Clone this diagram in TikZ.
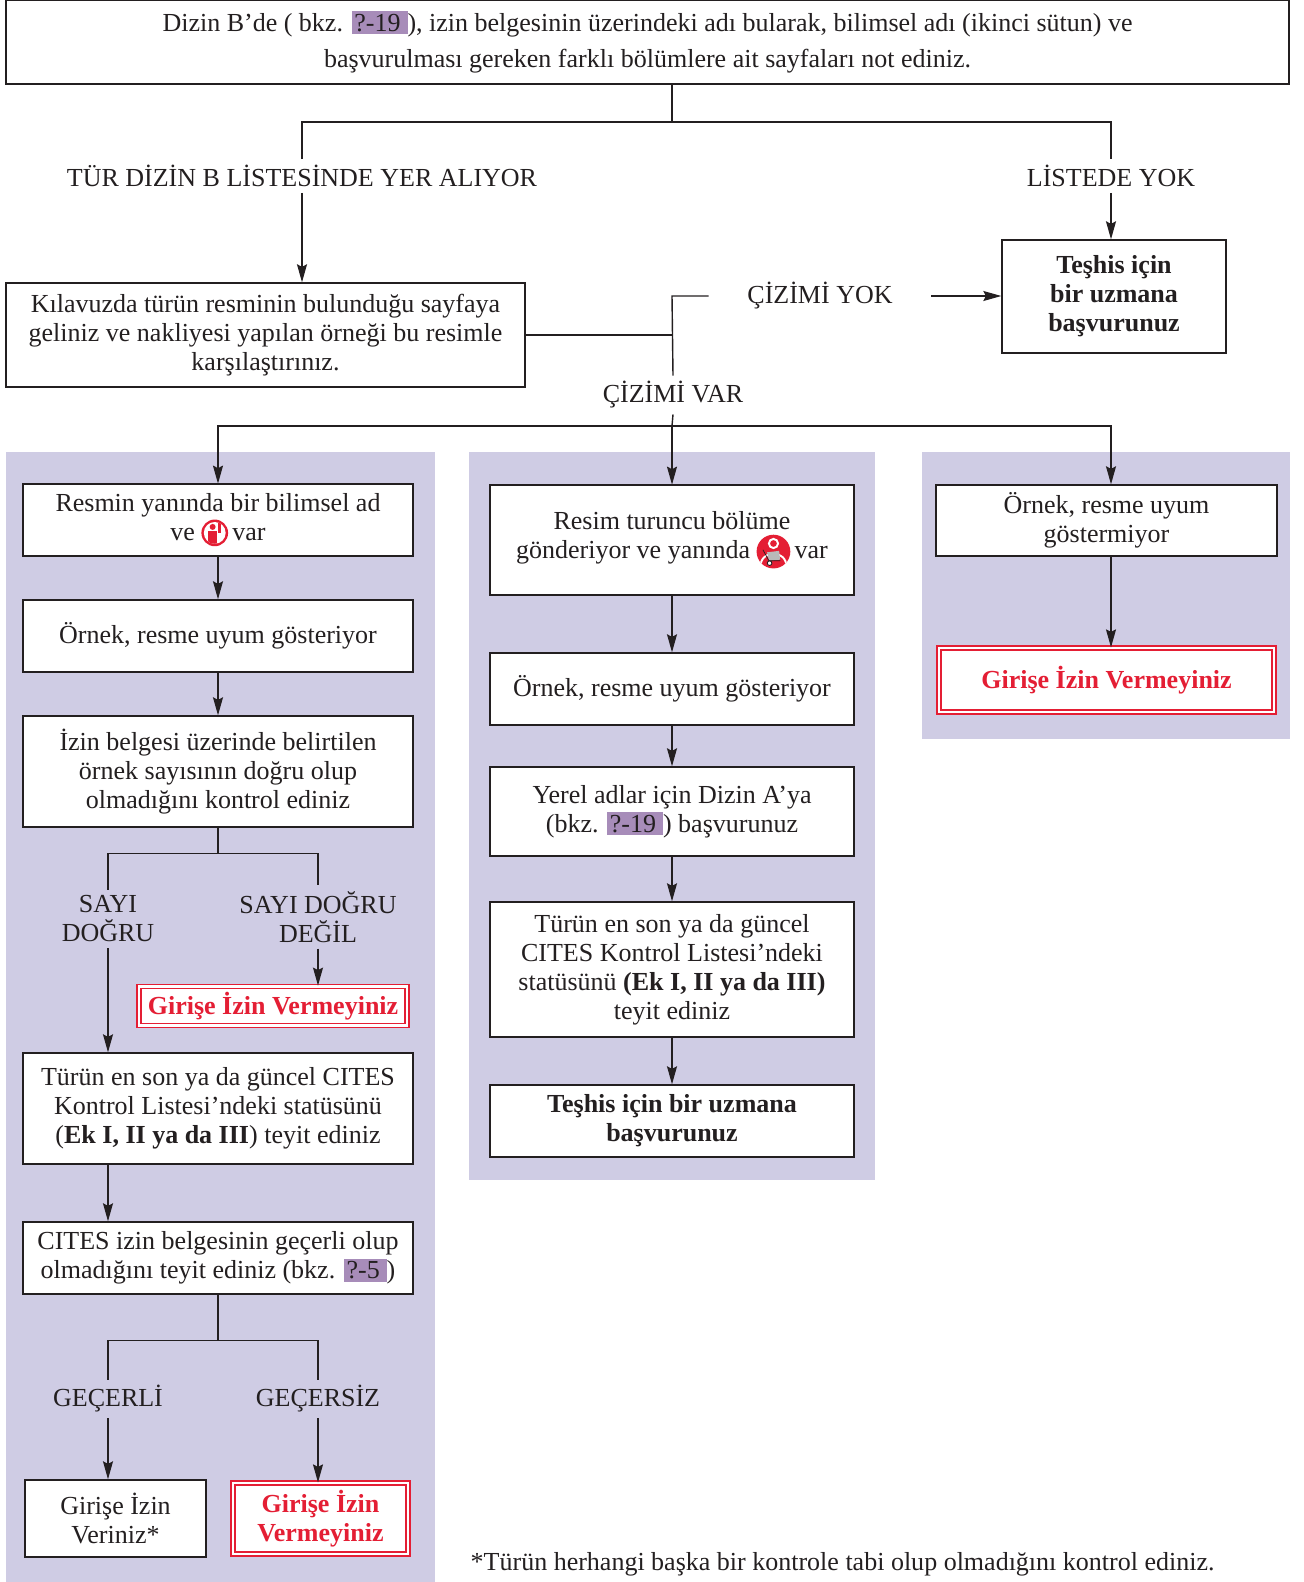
\documentclass[tikz,border=0pt]{standalone}
\usepackage{fontspec}
\setmainfont{Liberation Serif}
\usepackage{tikz}
\usetikzlibrary{arrows.meta, calc, positioning}
\definecolor{panelgray}{RGB}{207,204,228}
\definecolor{refpurple}{RGB}{167,140,185}
\definecolor{stopred}{RGB}{228,30,52}
\definecolor{ink}{RGB}{35,31,32}
\tikzset{>={Stealth[length=3.6mm,width=2mm,inset=0.5mm]}}
\newcommand{\refbox}[1]{{\setlength{\fboxsep}{1.5pt}\colorbox{refpurple}{#1\,}}}
% small pictograms inside the boxes
\newcommand{\handicon}{\tikz[baseline=-4.5pt, x=1pt, y=1pt]{%
\fill[stopred] (0,0) circle (7.6);
\fill[white] (0,0) circle (6.2);
\begin{scope}
\clip (0,0) circle (6.2);
\fill[stopred] (-1.2,3.4) circle (1.7);
\fill[stopred] (-3.8,1.2) rectangle (1.4,-7);
\fill[stopred] (2.1,0.2) rectangle (3.5,5.4);
\end{scope}}}
\newcommand{\carticon}{\tikz[baseline=-4pt, x=1pt, y=1pt]{%
\fill[stopred] (0,0) circle (9.6);
\begin{scope}
\clip (0,0) circle (9.6);
\draw[white, line width=1.1pt] (0,4.6) circle (2.6);
\draw[white, line width=1.1pt] (-7.5,-9) .. controls (-7.5,1.5) and (7.5,1.5) .. (7.5,-9);
\fill[gray!55] (-2.6,-5.2) -- (-3.6,-0.4) -- (3.2,0.4) -- (3.8,-4.6) -- cycle;
\draw[ink, line width=0.4pt] (-6,1) -- (-2.6,-5.2) -- (4,-5.2);
\draw[ink, fill=white, line width=0.5pt] (-2.2,-6.6) circle (1.3);
\end{scope}}}

\begin{document}
\begin{tikzpicture}[x=0.02cm, y=-0.02cm, line width=0.8pt, color=ink,
  every node/.style={font=\fontsize{14.8}{16.5}\selectfont},
  box/.style={draw, fill=white, align=center, inner sep=2pt},
  redbox/.style={draw=stopred, double=white, double distance=1.6pt, line width=0.7pt, fill=white,
    align=center, text=stopred, font=\fontsize{14.8}{16.5}\selectfont\bfseries},
  lbl/.style={align=center, inner sep=3pt}]
\useasboundingbox (0,0) rectangle (1304,1582);

% panels
\fill[panelgray] (6,452) rectangle (435,1582);
\fill[panelgray] (469,452) rectangle (875,1180);
\fill[panelgray] (922,452) rectangle (1290,739);

% top part
\node[box, minimum width=25.66cm, minimum height=1.68cm] (top) at (647.5,42)
  {Dizin B’de ( bkz. \refbox{?-19}), izin belgesinin üzerindeki adı bularak, bilimsel adı (ikinci sütun) ve\\[4pt]
   başvurulması gereken farklı bölümlere ait sayfaları not ediniz.};
\node[lbl] (tur) at (302,176) {TÜR DİZİN B LİSTESİNDE YER ALIYOR};
\node[lbl] (yok) at (1111,176) {LİSTEDE YOK};
\node[box, font=\fontsize{14.8}{16.5}\selectfont\bfseries, minimum width=4.48cm, minimum height=2.26cm] (expert1) at (1114,296.5)
  {Teşhis için\\bir uzmana\\başvurunuz};
\node[box, minimum width=10.38cm, minimum height=2.08cm] (guide) at (265.5,335)
  {Kılavuzda türün resminin bulunduğu sayfaya\\geliniz ve nakliyesi yapılan örneği bu resimle\\karşılaştırınız.};
\node[lbl, inner xsep=0.76cm] (cyok) at (820,296) {ÇİZİMİ YOK};
\node[lbl] (cvar) at (673,395) {ÇİZİMİ VAR};

% left column
\node[box, minimum width=7.8cm, minimum height=1.44cm] (L1) at (218,520)
  {Resmin yanında bir bilimsel ad\\ve \handicon\,var};
\node[box, minimum width=7.8cm, minimum height=1.44cm] (L2) at (218,636)
  {Örnek, resme uyum gösteriyor};
\node[box, minimum width=7.8cm, minimum height=2.22cm] (L3) at (218,771.5)
  {İzin belgesi üzerinde belirtilen\\örnek sayısının doğru olup\\olmadığını kontrol ediniz};
\node[lbl] (sayi) at (108,919) {SAYI\\DOĞRU};
\node[lbl] (sayid) at (318,917) {SAYI DOĞRU\\DEĞİL};
\node[redbox, minimum width=5.36cm, minimum height=0.72cm] (redL) at (273,1006) {Girişe İzin Vermeyiniz};
\node[box, minimum width=7.8cm, minimum height=2.22cm] (L4) at (218,1108.5)
  {Türün en son ya da güncel CITES\\Kontrol Listesi’ndeki statüsünü\\(\textbf{Ek I, II ya da III}) teyit ediniz};
\node[box, minimum width=7.8cm, minimum height=1.44cm] (L5) at (218,1258)
  {CITES izin belgesinin geçerli olup\\olmadığını teyit ediniz (bkz. \refbox{?-5})};
\node[lbl] (gec) at (108,1399) {GEÇERLİ};
\node[lbl] (gecs) at (318,1399) {GEÇERSİZ};
\node[box, minimum width=3.62cm, minimum height=1.54cm] (okbox) at (115.5,1518.5) {Girişe İzin\\Veriniz*};
\node[redbox, minimum width=3.5cm, minimum height=1.42cm] (redG) at (320.5,1518.5) {Girişe İzin\\Vermeyiniz};

% middle column
\node[box, minimum width=7.28cm, minimum height=2.2cm] (M1) at (672,540)
  {Resim turuncu bölüme\\gönderiyor ve yanında \carticon\,var};
\node[box, minimum width=7.28cm, minimum height=1.44cm] (M2) at (672,689)
  {Örnek, resme uyum gösteriyor};
\node[box, minimum width=7.28cm, minimum height=1.78cm] (M3) at (672,811.5)
  {Yerel adlar için Dizin A’ya\\(bkz. \refbox{?-19}) başvurunuz};
\node[box, minimum width=7.28cm, minimum height=2.7cm] (M4) at (672,969.5)
  {Türün en son ya da güncel\\CITES Kontrol Listesi’ndeki\\statüsünü \textbf{(Ek I, II ya da III)}\\teyit ediniz};
\node[box, font=\fontsize{14.8}{16.5}\selectfont\bfseries, minimum width=7.28cm, minimum height=1.44cm] (M5) at (672,1121)
  {Teşhis için bir uzmana\\başvurunuz};

% right column
\node[box, minimum width=6.82cm, minimum height=1.42cm] (R1) at (1106.5,520.5)
  {Örnek, resme uyum\\göstermiyor};
\node[redbox, minimum width=6.7cm, minimum height=1.28cm] (R2) at (1106.5,680) {Girişe İzin Vermeyiniz};

\node[anchor=base west, inner sep=0pt] (note) at (470,1570)
  {*Türün herhangi başka bir kontrole tabi olup olmadığını kontrol ediniz.};

% connectors
\coordinate (j1) at (672,122);
\draw (top.south -| j1) -- (j1);
\draw (tur.north) |- (j1) -| (yok.north);
\draw[->] (tur.south) -- (tur.south |- guide.north);
\draw[->] (yok.south) -- (yok.south |- expert1.north);
\coordinate (j2) at (672,296);
\draw (guide.east) -- (guide.east -| j2);
\draw (cvar.north) -- (j2) -- (cyok.west);
\draw[->] (cyok.east) -- (expert1.west |- cyok.east);
\coordinate (j3) at (672,426);
\draw (cvar.south) -- (j3);
\draw[->] (j3) -| (L1.north);
\draw[->] (j3) -- (M1.north);
\draw[->] (j3) -| (R1.north -| yok);

\draw[->] (L1) -- (L2);
\draw[->] (L2) -- (L3);
\draw (L3.south) -- ++(0,26) coordinate (j4);
\draw (sayi.north) |- (j4) -| (sayid.north);
\draw[->] (sayi.south) -- (sayi.south |- L4.north);
\draw[->] (sayid.south) -- (sayid.south |- redL.north);
\draw[->] (sayi.south |- L4.south) -- (sayi.south |- L5.north);
\draw (L5.south) -- ++(0,46) coordinate (j5);
\draw (gec.north) |- (j5) -| (gecs.north);
\draw[->] (gec.south) -- (gec.south |- okbox.north);
\draw[->] (gecs.south) -- (gecs.south |- redG.north);

\draw[->] (M1) -- (M2);
\draw[->] (M2) -- (M3);
\draw[->] (M3) -- (M4);
\draw[->] (M4) -- (M5);

\draw[->] (R1.south -| yok) -- (R2.north -| yok);
\end{tikzpicture}
\end{document}
